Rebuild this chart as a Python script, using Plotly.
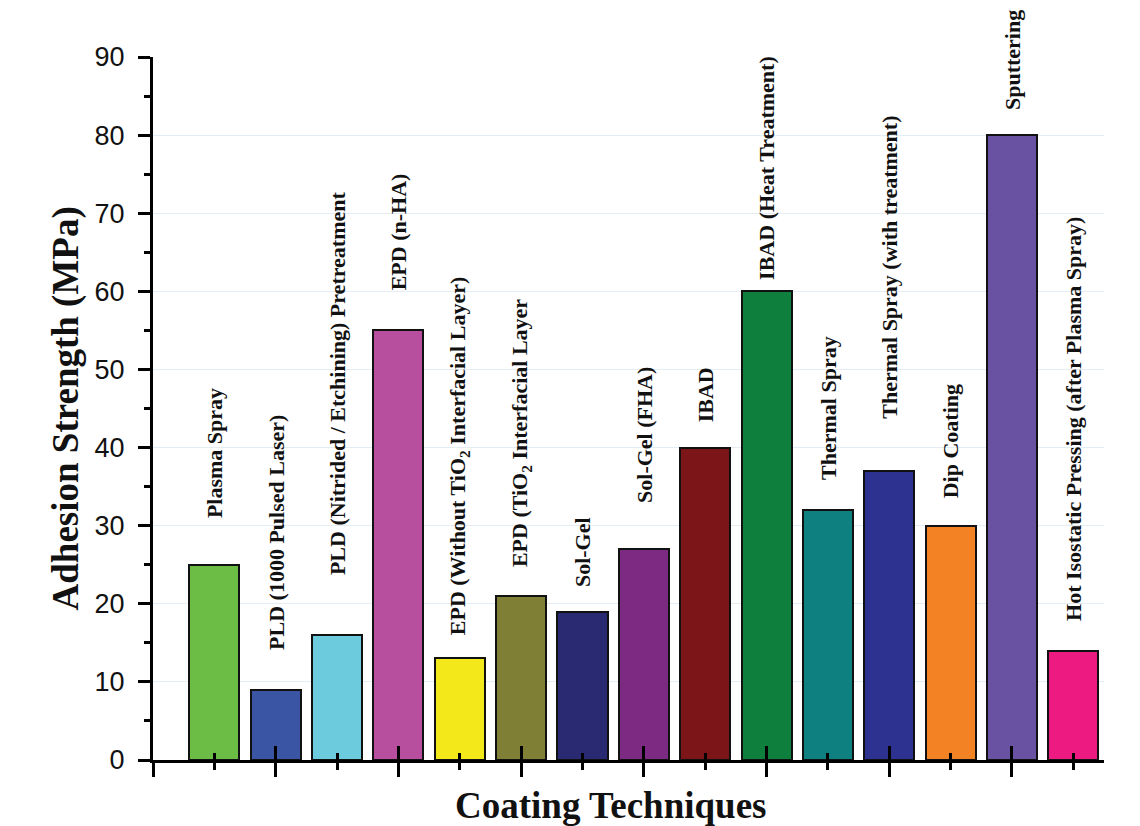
import plotly.graph_objects as go

categories = [
    "Plasma Spray",
    "PLD (1000 Pulsed Laser)",
    "PLD (Nitrided / Etchining) Pretreatment",
    "EPD (n-HA)",
    "EPD (Without TiO<sub>2</sub> Interfacial Layer)",
    "EPD (TiO<sub>2</sub> Interfacial Layer",
    "Sol-Gel",
    "Sol-Gel (FHA)",
    "IBAD",
    "IBAD (Heat Treatment)",
    "Thermal Spray",
    "Thermal Spray (with treatment)",
    "Dip Coating",
    "Sputtering",
    "Hot Isostatic Pressing (after Plasma Spray)",
]
adhesion_mpa = [25, 9, 16, 55, 13, 21, 19, 27, 40, 60, 32, 37, 30, 80, 14]

bar_colors = [
    "#6bbd45", "#3a55a4", "#6ccbdc", "#b84f9e", "#f2e81a",
    "#7f7f35", "#2a2a72", "#7d2a82", "#7c1517", "#0f7f3e",
    "#0f8080", "#2d3290", "#f28223", "#6a52a2", "#ed1a82",
]
# pixel gap between bar top and its rotated label (layout styling)
label_gap_px = [47, 40, 60, 40, 23, 29, 25, 46, 25, 11, 30, 52, 27, 25, 30]

y_ticks = [0, 10, 20, 30, 40, 50, 60, 70, 80, 90]

x_idx = list(range(len(categories)))

fig = go.Figure()
fig.add_trace(go.Bar(
    x=x_idx, y=adhesion_mpa, width=0.816,
    marker=dict(color=bar_colors, line=dict(color="#111111", width=2)),
    hoverinfo="skip", showlegend=False,
))
# invisible twin on the overlay axis so its inner tick marks get drawn
fig.add_trace(go.Scatter(
    x=x_idx, y=adhesion_mpa, xaxis="x2", yaxis="y", mode="markers",
    marker=dict(opacity=0), hoverinfo="skip", showlegend=False,
))

for i, (lab, v, g) in enumerate(zip(categories, adhesion_mpa, label_gap_px)):
    fig.add_annotation(
        x=i, y=v, xref="x", yref="y", text="<b>%s</b>" % lab,
        textangle=-90, showarrow=False, xanchor="center", yanchor="bottom",
        yshift=g - 2,
        font=dict(family="Liberation Serif", size=22, color="#111111"),
    )

fig.add_annotation(
    x=0, y=0.5, xref="paper", yref="paper", text="<b>Adhesion Strength (MPa)</b>",
    textangle=-90, showarrow=False, xanchor="center", yanchor="middle",
    xshift=-88, font=dict(family="Liberation Serif", size=37, color="#111111"),
)
fig.add_annotation(
    x=0.5, y=0, xref="paper", yref="paper", text="<b>Coating Techniques</b>",
    showarrow=False, xanchor="center", yanchor="middle",
    xshift=-18, yshift=-45, font=dict(family="Liberation Serif", size=37, color="#111111"),
)

fig.update_layout(
    width=1132, height=818,
    margin=dict(l=145, r=36, t=49, b=66),
    paper_bgcolor="white", plot_bgcolor="white",
    bargap=0,
    xaxis=dict(
        range=[-1, 14.5], showline=True, linecolor="black", linewidth=3,
        showgrid=False, zeroline=False, showticklabels=False,
        tick0=-1, dtick=2, ticks="outside", ticklen=14, tickwidth=3, tickcolor="black",
        minor=dict(tick0=0, dtick=1, ticks="outside", ticklen=7, tickwidth=3, tickcolor="black"),
    ),
    xaxis2=dict(
        overlaying="x", anchor="y", side="bottom",
        range=[-1, 14.5], showline=False, showgrid=False, zeroline=False, showticklabels=False,
        tick0=-1, dtick=2, ticks="inside", ticklen=14, tickwidth=3, tickcolor="black",
        minor=dict(tick0=0, dtick=1, ticks="inside", ticklen=7, tickwidth=3, tickcolor="black"),
        layer="above traces",
    ),
    yaxis=dict(
        range=[0, 90], tickvals=y_ticks, showline=True, linecolor="black", linewidth=3,
        showgrid=True, gridcolor="#e4edf4", gridwidth=1, zeroline=False,
        ticks="outside", ticklen=12, tickwidth=3, tickcolor="black",
        minor=dict(dtick=5, ticks="outside", ticklen=6, tickwidth=3, tickcolor="black", showgrid=False),
        tickfont=dict(family="Liberation Sans", size=27, color="#111111"),
        ticklabelstandoff=8,
    ),
)

fig.write_html("out.html")
